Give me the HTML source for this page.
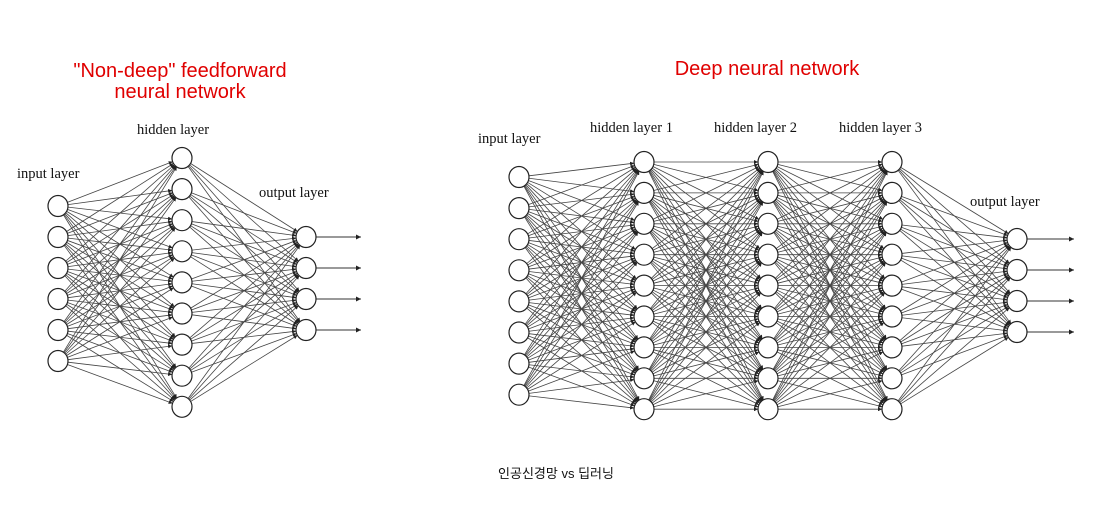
<!DOCTYPE html>
<html><head><meta charset="utf-8"><style>
body{margin:0;background:#fff;}
svg{display:block}
.t{font-family:"Liberation Sans",sans-serif;fill:#e00000;font-size:20px;text-anchor:middle}
.l{font-family:"Liberation Serif",serif;font-size:14.5px;fill:#111}
</style></head><body>
<svg id="s" width="1111" height="508" viewBox="0 0 1111 508" xmlns="http://www.w3.org/2000/svg">
<defs><marker id="a" viewBox="0 0 10 10" refX="10" refY="5" markerWidth="5" markerHeight="5" orient="auto"><path d="M0,0L10,5L0,10z" fill="#222"/></marker></defs>
<text class="t" x="180" y="77">"Non-deep" feedforward</text>
<text class="t" x="180" y="98">neural network</text>
<text class="t" x="767" y="75">Deep neural network</text>
<text class="l" x="17" y="178">input layer</text>
<text class="l" x="137" y="134">hidden layer</text>
<text class="l" x="259" y="197">output layer</text>
<text class="l" x="478" y="143">input layer</text>
<text class="l" x="590" y="132">hidden layer 1</text>
<text class="l" x="714" y="132">hidden layer 2</text>
<text class="l" x="839" y="132">hidden layer 3</text>
<text class="l" x="970" y="206">output layer</text>
<text x="556" y="478" text-anchor="middle" style="font-family:'Liberation Sans','Noto Sans CJK KR',sans-serif;font-size:13px;fill:#111">인공신경망 vs 딥러닝</text>
<g id="g"></g>
</svg>
<script>
var g=document.getElementById('g'),ns='http://www.w3.org/2000/svg',R=10;
function col(x,y0,n,d){var a=[];for(var i=0;i<n;i++)a.push([x,y0+i*d]);return a;}
function net(L,ax){
 var h='';
 for(var k=0;k<L.length-1;k++){L[k].forEach(function(p){L[k+1].forEach(function(q){
  var dx=q[0]-p[0],dy=q[1]-p[1],m=Math.sqrt(dx*dx+dy*dy);
  h+='<line x1="'+(p[0]+dx/m*R)+'" y1="'+(p[1]+dy/m*R)+'" x2="'+(q[0]-dx/m*R)+'" y2="'+(q[1]-dy/m*R)+'" stroke="#444" stroke-width="0.8" marker-end="url(#a)"/>';});});}
 L[L.length-1].forEach(function(p){h+='<line x1="'+(p[0]+R)+'" y1="'+p[1]+'" x2="'+ax+'" y2="'+p[1]+'" stroke="#333" stroke-width="1" marker-end="url(#a)"/>';});
 L.forEach(function(c){c.forEach(function(p){h+='<ellipse cx="'+p[0]+'" cy="'+p[1]+'" rx="'+R+'" ry="'+(R+0.5)+'" fill="#fff" stroke="#222" stroke-width="1.2"/>';});});
 return h;}
var s='';
s+=net([col(58,206,6,31),col(182,158,9,31.1),col(306,237,4,31)],361);
s+=net([col(519,177,8,31.1),col(644,162,9,30.9),col(768,162,9,30.9),col(892,162,9,30.9),col(1017,239,4,31)],1074);
g.innerHTML=s;
</script>
</body></html>
